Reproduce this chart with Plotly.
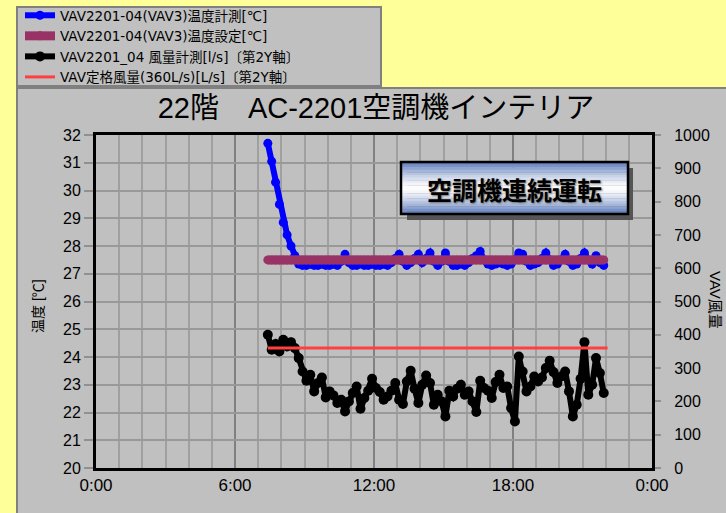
import plotly.graph_objects as go
import pandas as pd

W, H = 726, 513

# ---------------- data ----------------
START_TIME = "2000-01-01 07:25"
STEP = "10min"

TEMP_MEASURED = [
    31.7, 31.05, 30.3, 29.5, 28.85, 28.4, 28.0, 27.65, 27.35, 27.3,
    27.3, 27.35, 27.3, 27.3, 27.35, 27.3, 27.3, 27.35, 27.3, 27.45,
    27.7, 27.4, 27.3, 27.3, 27.35, 27.3, 27.3, 27.35, 27.3, 27.3,
    27.35, 27.3, 27.4, 27.55, 27.7, 27.45, 27.3, 27.4, 27.55, 27.7,
    27.4, 27.55, 27.75, 27.45, 27.3, 27.45, 27.75, 27.45, 27.3, 27.3,
    27.35, 27.3, 27.4, 27.55, 27.65, 27.8, 27.5, 27.35, 27.3, 27.35,
    27.4, 27.35, 27.3, 27.35, 27.5, 27.75, 27.7, 27.45, 27.3, 27.35,
    27.4, 27.55, 27.75, 27.5, 27.3, 27.35, 27.5, 27.7, 27.45, 27.3,
    27.35, 27.55, 27.75, 27.5, 27.35, 27.65, 27.4, 27.3,
]

TEMP_SETPOINT_VALUE = 27.5
TEMP_SETPOINT = [TEMP_SETPOINT_VALUE] * len(TEMP_MEASURED)

AIRFLOW = [
    400, 355, 372, 350, 385, 365, 378, 360, 330, 290,
    262, 280, 230, 255, 272, 212, 230, 218, 195, 205,
    170, 200, 225, 245, 178, 210, 232, 268, 240, 228,
    205, 215, 232, 255, 205, 192, 260, 292, 238, 195,
    250, 278, 255, 190, 220, 200, 155, 232, 215, 238,
    250, 220, 230, 200, 168, 262, 240, 232, 210, 258,
    280, 240, 245, 180, 140, 335, 290, 230, 245, 275,
    260, 272, 300, 322, 288, 255, 275, 290, 230, 155,
    190, 268, 378, 220, 250, 330, 285, 225,
]

RATED_TIMES = ["2000-01-01 07:25", "2000-01-01 22:05"]
RATED_FLOW = [360, 360]

X_RANGE = ["2000-01-01 00:00", "2000-01-02 00:00"]
TEMP_RANGE = [20, 32]
FLOW_RANGE = [0, 1000]

NAMES = [
    "VAV2201-04(VAV3)温度計測[℃]",
    "VAV2201-04(VAV3)温度設定[℃]",
    "VAV2201_04 風量計測[l/s]〔第2Y軸〕",
    "VAV定格風量(360L/s)[L/s]〔第2Y軸〕",
]
TITLE = "22階　AC-2201空調機インテリア"
BOX_TEXT = "空調機連続運転"
Y1_TITLE = "温度 [℃]"
Y2_TITLE = "VAV風量"

times = pd.date_range(START_TIME, periods=len(TEMP_MEASURED), freq=STEP)

FONT = "Liberation Sans, Noto Sans CJK JP, sans-serif"
LEGEND_FONT = "DejaVu Sans, Noto Sans CJK JP, sans-serif"
GRAY = "#C0C0C0"


def px(x):
    return x / W


def py(y):
    return 1 - y / H


fig = go.Figure()
fig.add_trace(go.Scatter(
    x=times, y=TEMP_MEASURED, name=NAMES[0], mode="lines+markers",
    line=dict(color="#0000FF", width=6), marker=dict(color="#0000FF", size=9),
    yaxis="y"))
fig.add_trace(go.Scatter(
    x=times, y=TEMP_SETPOINT, name=NAMES[1], mode="lines+markers",
    line=dict(color="#993366", width=9), marker=dict(color="#993366", size=9),
    yaxis="y"))
fig.add_trace(go.Scatter(
    x=times, y=AIRFLOW, name=NAMES[2], mode="lines+markers",
    line=dict(color="#000000", width=6), marker=dict(color="#000000", size=10),
    yaxis="y2"))
fig.add_trace(go.Scatter(
    x=pd.to_datetime(RATED_TIMES), y=RATED_FLOW, name=NAMES[3], mode="lines",
    line=dict(color="#FF4040", width=3), yaxis="y2"))

shapes = []
# legend box and chart area backgrounds
shapes.append(dict(type="rect", xref="paper", yref="paper",
                   x0=px(17), x1=px(381), y0=py(86), y1=py(7),
                   fillcolor=GRAY, line=dict(color="#808080", width=2), layer="below"))
shapes.append(dict(type="rect", xref="paper", yref="paper",
                   x0=px(17), x1=px(728), y0=py(515), y1=py(88),
                   fillcolor=GRAY, line=dict(color="#808080", width=2), layer="below"))

# label box: shadow, gradient, border
bx0, bx1, by0, by1 = 401, 628, 162, 214
shapes.append(dict(type="rect", xref="paper", yref="paper",
                   x0=px(bx0 + 6), x1=px(bx1 + 5), y0=py(by1 + 6), y1=py(by0 + 6),
                   fillcolor="#555555", line=dict(width=0), layer="above"))
n = 20
edge = (88, 120, 186)
for i in range(n):
    t = abs((i + 0.5) / n - 0.5) * 2
    t = t ** 1.4
    c = tuple(int(255 + (e - 255) * t) for e in edge)
    ya = by0 + (by1 - by0) * i / n
    yb = by0 + (by1 - by0) * (i + 1) / n
    shapes.append(dict(type="rect", xref="paper", yref="paper",
                       x0=px(bx0), x1=px(bx1), y0=py(yb + 0.3), y1=py(ya),
                       fillcolor="rgb(%d,%d,%d)" % c, line=dict(width=0), layer="above"))
shapes.append(dict(type="rect", xref="paper", yref="paper",
                   x0=px(bx0), x1=px(bx1), y0=py(by1), y1=py(by0),
                   fillcolor="rgba(0,0,0,0)", line=dict(color="#000000", width=2.5), layer="above"))

annotations = [
    dict(text=BOX_TEXT, xref="paper", yref="paper", x=px((bx0 + bx1) / 2), y=py((by0 + by1) / 2 + 1),
         showarrow=False, xanchor="center", yanchor="middle",
         font=dict(family="Noto Sans CJK JP", size=25, color="#000000", weight="bold",
                   shadow="1px 1px 2px #707070")),
    dict(text=Y1_TITLE, xref="paper", yref="paper", x=px(38), y=py(306),
         showarrow=False, textangle=-90, xanchor="center", yanchor="middle",
         font=dict(family=FONT, size=14, color="#000000")),
    dict(text=Y2_TITLE, xref="paper", yref="paper", x=px(716), y=py(300),
         showarrow=False, textangle=90, xanchor="center", yanchor="middle",
         font=dict(family=FONT, size=15, color="#000000")),
]

fig.update_layout(
    width=W, height=H,
    margin=dict(l=0, r=0, t=0, b=0, autoexpand=False),
    paper_bgcolor="#FFFF99",
    plot_bgcolor=GRAY,
    font=dict(family=FONT, color="#000000"),
    title=dict(text=TITLE, x=px(376), y=py(108), xanchor="center", yanchor="middle",
               xref="paper", yref="paper",
               font=dict(family=FONT, size=29, color="#000000")),
    showlegend=True,
    legend=dict(x=px(20), y=1.0, xanchor="left", yanchor="top",
                bgcolor="rgba(0,0,0,0)", borderwidth=0,
                font=dict(family=LEGEND_FONT, size=13.5, color="#000000"),
                itemwidth=30, tracegroupgap=0),
    xaxis=dict(
        type="date", domain=[px(96), px(652)], range=X_RANGE,
        tick0="2000-01-01", dtick=6 * 3600 * 1000, tickformat="%-H:%M",
        showgrid=True, gridcolor="#808080", gridwidth=1.5,
        minor=dict(dtick=3600 * 1000, showgrid=True, gridcolor="#A0A0A0", gridwidth=1.5),
        showline=True, linecolor="#000000", linewidth=3, mirror=True,
        ticks="", tickfont=dict(family=FONT, size=17), zeroline=False,
        anchor="y",
    ),
    yaxis=dict(
        domain=[py(468), py(135)], range=TEMP_RANGE, dtick=1,
        showgrid=True, gridcolor="#999999", gridwidth=1.5,
        showline=True, linecolor="#000000", linewidth=3,
        ticks="outside", ticklen=9, tickcolor="#909090", tickwidth=1.5,
        tickfont=dict(family=FONT, size=16), zeroline=False,
    ),
    yaxis2=dict(
        overlaying="y", side="right", range=FLOW_RANGE, dtick=100,
        showgrid=False, showline=True, linecolor="#000000", linewidth=3,
        ticks="outside", ticklen=6, tickcolor="#909090", tickwidth=1.5,
        ticklabelstandoff=10,
        tickfont=dict(family=FONT, size=16), zeroline=False,
    ),
    shapes=shapes,
    annotations=annotations,
)

fig.write_html(
    "out.html",
    config=dict(displayModeBar=False),
    post_script="document.body.style.margin='0';document.body.style.padding='0';"
                "document.body.style.overflow='hidden';",
)
